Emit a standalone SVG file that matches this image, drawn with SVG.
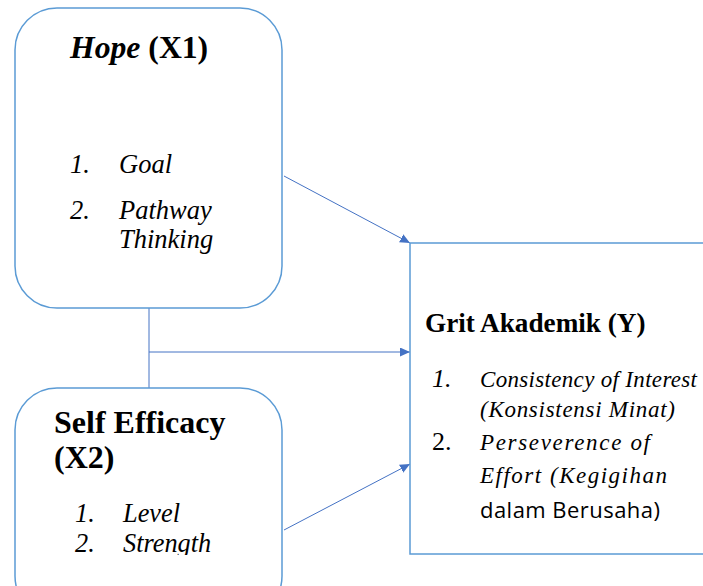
<svg xmlns="http://www.w3.org/2000/svg" width="703" height="586" viewBox="0 0 703 586">
<defs>
<marker id="ah" markerUnits="userSpaceOnUse" markerWidth="12" markerHeight="10" refX="10" refY="4.5" orient="auto">
<path d="M0,0 L10,4.5 L0,9 Z" fill="#4472C4"/>
</marker>
<clipPath id="clipSE"><rect x="0" y="380" width="300" height="175"/></clipPath>
</defs>
<g id="connectors" fill="none" stroke="#4472C4" stroke-width="1">
<path d="M149,308 V388"/>
<path d="M149,352 H410" marker-end="url(#ah)"/>
<path d="M284,176 L410,243" marker-end="url(#ah)"/>
<path d="M284,530 L410,464" marker-end="url(#ah)"/>
</g>
<g id="hope" font-family="Liberation Serif" fill="#000">
<rect x="15" y="8" width="267" height="300" rx="42" fill="#fff" stroke="#5B9BD5" stroke-width="1.5"/>
<text x="70" y="58" font-size="31.7" font-weight="bold"><tspan font-style="italic">Hope</tspan> (X1)</text>
<g font-style="italic" font-size="26.5">
<text x="70" y="173">1.</text>
<text x="119" y="173">Goal</text>
<text x="70" y="219">2.</text>
<text x="119" y="219">Pathway</text>
<text x="119" y="248">Thinking</text>
</g>
</g>
<g id="self-efficacy" font-family="Liberation Serif" fill="#000">
<rect x="15" y="388" width="267" height="230" rx="42" fill="#fff" stroke="#5B9BD5" stroke-width="1.5"/>
<text x="54" y="433" font-size="32" font-weight="bold">Self Efficacy</text>
<text x="54" y="468" font-size="32" font-weight="bold">(X2)</text>
<g clip-path="url(#clipSE)" font-style="italic" font-size="26.3">
<text x="75" y="522">1.</text>
<text x="123" y="522">Level</text>
<text x="75" y="552">2.</text>
<text x="123" y="552">Strength</text>
</g>
</g>
<g id="grit" font-family="Liberation Serif" fill="#000">
<rect x="410" y="243" width="320" height="311" fill="#fff" stroke="#5B9BD5" stroke-width="1.5"/>
<text x="425" y="332" font-size="27.2" font-weight="bold">Grit Akademik (Y)</text>
<text x="432" y="387" font-size="26" font-style="italic">1.</text>
<text x="480" y="387" font-size="23" font-style="italic" textLength="217" lengthAdjust="spacing">Consistency of Interest</text>
<text x="480" y="417" font-size="23" font-style="italic" textLength="195" lengthAdjust="spacing">(Konsistensi Minat)</text>
<text x="432" y="450" font-size="26">2.</text>
<text x="480" y="450" font-size="23" font-style="italic" textLength="170" lengthAdjust="spacing">Perseverence of</text>
<text x="480" y="483" font-size="23" font-style="italic" textLength="187" lengthAdjust="spacing">Effort (Kegigihan</text>
<text x="480" y="518" font-size="22" font-family="Open Sans" textLength="180" lengthAdjust="spacing">dalam Berusaha)</text>
</g>
</svg>
